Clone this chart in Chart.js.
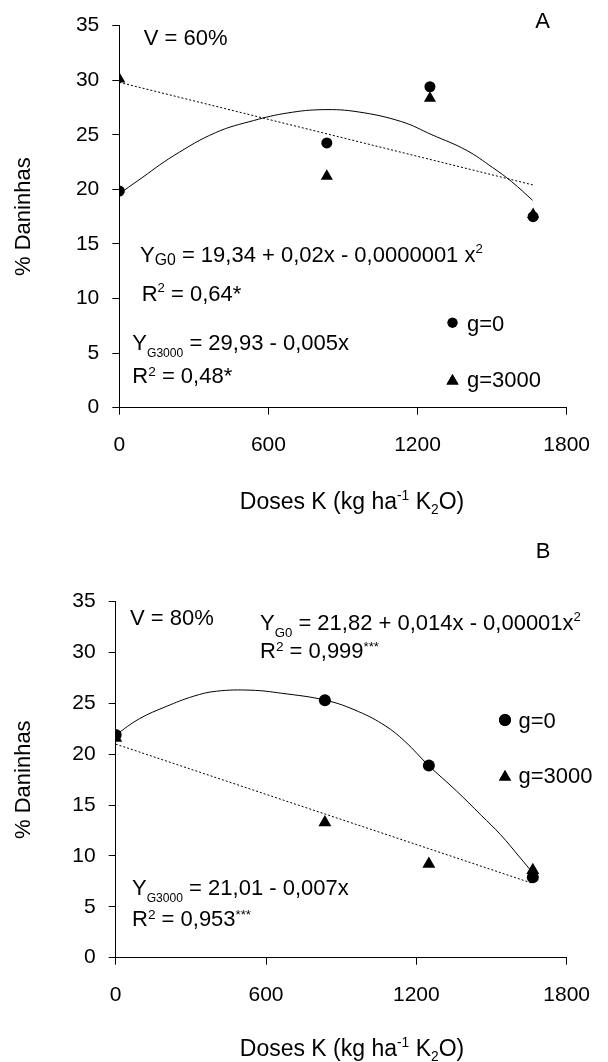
<!DOCTYPE html>
<html>
<head>
<meta charset="utf-8">
<script src="https://cdn.jsdelivr.net/npm/chart.js@4.4.1/dist/chart.umd.min.js"></script>
<style>
  html, body { margin: 0; padding: 0; background: #fff; }
  .panel { position: absolute; left: 0; width: 608px; }
  #panel-a { top: 0; height: 530px; }
  #panel-b { top: 530px; height: 532px; }
</style>
</head>
<body>
<div class="panel" id="panel-a"><canvas id="chart-a" width="608" height="530"></canvas></div>
<div class="panel" id="panel-b"><canvas id="chart-b" width="608" height="532"></canvas></div>
<script>
// Doses K (kg ha-1 K2O), same in both trials
const doses = [0, 835, 1250, 1665];
const xTicks = [0, 600, 1200, 1800];
const yTicks = [0, 5, 10, 15, 20, 25, 30, 35];

// Panel A - V = 60%
const aG0 = [19.85, 24.25, 29.4, 17.5];
const aG3000 = [30.1, 21.2, 28.35, 17.7];
const aCurveX = [0, 75, 220, 388, 540, 678, 820, 960, 1136, 1258, 1395, 1502, 1579, 1663];
const aCurveY = [19.6, 20.8, 23.1, 25.2, 26.3, 27.0, 27.3, 27.1, 26.2, 25.0, 23.6, 22.0, 20.7, 19.0];
const aLineX = [0, 1665];
const aLineY = [29.8, 20.4];

// Panel B - V = 80%
const bG0 = [21.9, 25.3, 18.9, 7.9];
const bG3000 = [21.6, 13.3, 9.2, 8.6];
const bCurveX = [0, 95, 202, 310, 402, 540, 662, 840, 969, 1076, 1153, 1249, 1360, 1459, 1536, 1612, 1666];
const bCurveY = [21.9, 23.5, 24.7, 25.7, 26.2, 26.3, 26.0, 25.3, 24.2, 22.8, 21.3, 18.9, 16.4, 14.0, 12.1, 9.9, 8.3];
const bLineX = [0, 1665];
const bLineY = [21.0, 7.3];

const FONT = '"Liberation Sans", Arial, sans-serif';
Chart.defaults.font.family = FONT;
Chart.defaults.color = '#000';

const toPoints = (xs, ys) => xs.map((x, i) => ({ x, y: ys[i] }));

// ----------------------------------------------------
// Text with sub/superscripts + legend marks, drawn on top
// ----------------------------------------------------
function drawRich(ctx, item) {
  const size = item.size || 22;
  const parts = item.parts.map(p => typeof p === 'string' ? { t: p, s: 1, dy: 0 } : p);
  let total = 0;
  parts.forEach(p => {
    ctx.font = (size * p.s) + 'px ' + FONT;
    total += ctx.measureText(p.t).width;
  });
  let x = item.align === 'center' ? item.x - total / 2 : item.x;
  const base = item.y + size * 0.36;
  parts.forEach(p => {
    ctx.font = (size * p.s) + 'px ' + FONT;
    ctx.fillText(p.t, x, base + p.dy * size);
    x += ctx.measureText(p.t).width;
  });
}

const notesPlugin = {
  id: 'notes',
  afterDraw(chart, args, opts) {
    const ctx = chart.ctx;
    ctx.save();
    ctx.fillStyle = '#000';
    ctx.textAlign = 'left';
    ctx.textBaseline = 'alphabetic';
    (opts.items || []).forEach(item => drawRich(ctx, item));
    (opts.marks || []).forEach(m => {
      Chart.helpers.drawPoint(ctx, { pointStyle: m.style, radius: m.r, rotation: 0, borderWidth: 0 }, m.x, m.y);
      ctx.fill();
    });
    ctx.restore();
  }
};

const sup = t => ({ t, s: 0.6, dy: -0.42 });

function buildPanel(id, cfg) {
  return new Chart(document.getElementById(id), {
    type: 'scatter',
    data: {
      datasets: [
        { label: 'g=0', data: toPoints(doses, cfg.g0), pointStyle: 'circle', pointRadius: cfg.dotR,
          backgroundColor: '#000', borderColor: '#000', borderWidth: 0 },
        { label: 'g=3000', data: toPoints(doses, cfg.g3000), pointStyle: 'triangle', pointRadius: cfg.triR,
          backgroundColor: '#000', borderColor: '#000', borderWidth: 0 },
        { label: 'ajuste g=0', data: toPoints(cfg.curveX, cfg.curveY), showLine: true, pointRadius: 0,
          borderColor: '#000', borderWidth: 1, tension: 0.4 },
        { label: 'ajuste g=3000', data: toPoints(cfg.lineX, cfg.lineY), showLine: true, pointRadius: 0,
          borderColor: '#000', borderWidth: 1, borderDash: [2, 2] }
      ]
    },
    options: {
      responsive: false,
      animation: false,
      events: [],
      devicePixelRatio: 1,
      layout: { padding: cfg.padding },
      plugins: {
        legend: { display: false },
        tooltip: { enabled: false },
        notes: { items: cfg.notes, marks: cfg.marks }
      },
      scales: {
        x: {
          type: 'linear', min: 0, max: 1800,
          afterBuildTicks: s => { s.ticks = xTicks.map(v => ({ value: v })); },
          afterFit: s => { s.height = cfg.xHeight; },
          grid: { drawOnChartArea: false, drawTicks: true, tickLength: 7, color: '#000' },
          border: { color: '#000', width: 1 },
          ticks: { color: '#000', padding: 18, maxRotation: 0, font: { size: 21 }, callback: v => String(v) }
        },
        y: {
          type: 'linear', min: 0, max: 35,
          afterBuildTicks: s => { s.ticks = yTicks.map(v => ({ value: v })); },
          afterFit: s => { s.width = cfg.yWidth; },
          grid: { drawOnChartArea: false, drawTicks: true, tickLength: 7, color: '#000' },
          border: { color: '#000', width: 1 },
          ticks: { color: '#000', padding: 13, font: { size: 21 }, callback: v => String(v) },
          title: { display: true, text: '% Daninhas', color: '#000', font: { size: 22 }, padding: { top: 11, bottom: 0 } }
        }
      }
    },
    plugins: [notesPlugin]
  });
}

const xTitle = yc => ({ x: 352, y: yc, align: 'center', size: 23,
  parts: ['Doses K (kg ha', sup('-1'), ' K', { t: '2', s: 0.6, dy: 0.2 }, 'O)'] });

buildPanel('chart-a', {
  g0: aG0, g3000: aG3000, curveX: aCurveX, curveY: aCurveY, lineX: aLineX, lineY: aLineY,
  dotR: 5.5, triR: 7,
  padding: { left: 0, right: 32.7, top: 25, bottom: 0 },
  xHeight: 122.3, yWidth: 119.3,
  notes: [
    { x: 542.5, y: 20, align: 'center', parts: ['A'] },
    { x: 143.7, y: 37, parts: ['V = 60%'] },
    { x: 140, y: 254, parts: ['Y', { t: 'G0', s: 0.72, dy: 0.15 }, ' = 19,34 + 0,02x - 0,0000001 x', sup('2')] },
    { x: 141.7, y: 293, parts: ['R', sup('2'), ' = 0,64*'] },
    { x: 132.3, y: 342, parts: ['Y', { t: 'G3000', s: 0.55, dy: 0.32 }, ' = 29,93 - 0,005x'] },
    { x: 132.3, y: 375, parts: ['R', { t: '2', s: 0.62, dy: -0.3 }, ' = 0,48*'] },
    { x: 467, y: 322.7, parts: ['g=0'] },
    { x: 467, y: 379, parts: ['g=3000'] },
    xTitle(501)
  ],
  marks: [
    { style: 'circle', r: 5, x: 452.5, y: 322.7 },
    { style: 'triangle', r: 7, x: 452.5, y: 381 }
  ]
});

buildPanel('chart-b', {
  g0: bG0, g3000: bG3000, curveX: bCurveX, curveY: bCurveY, lineX: bLineX, lineY: bLineY,
  dotR: 6, triR: 7.5,
  padding: { left: 0, right: 36.4, top: 71.7, bottom: 0 },
  xHeight: 104.3, yWidth: 115.7,
  notes: [
    { x: 543, y: 20, align: 'center', parts: ['B'] },
    { x: 130, y: 87, parts: ['V = 80%'] },
    { x: 260, y: 92, parts: ['Y', { t: 'G0', s: 0.6, dy: 0.3 }, ' = 21,82 + 0,014x - 0,00001x', sup('2')] },
    { x: 260, y: 120, parts: ['R', { t: '2', s: 0.62, dy: -0.3 }, ' = 0,999', { t: '***', s: 0.6, dy: -0.3 }] },
    { x: 518.5, y: 190, parts: ['g=0'] },
    { x: 518.5, y: 245, parts: ['g=3000'] },
    { x: 132, y: 357, parts: ['Y', { t: 'G3000', s: 0.55, dy: 0.32 }, ' = 21,01 - 0,007x'] },
    { x: 132, y: 388, parts: ['R', { t: '2', s: 0.62, dy: -0.3 }, ' = 0,953', { t: '***', s: 0.6, dy: -0.3 }] },
    xTitle(518)
  ],
  marks: [
    { style: 'circle', r: 6, x: 505, y: 190 },
    { style: 'triangle', r: 7, x: 505, y: 247 }
  ]
});
</script>
</body>
</html>
